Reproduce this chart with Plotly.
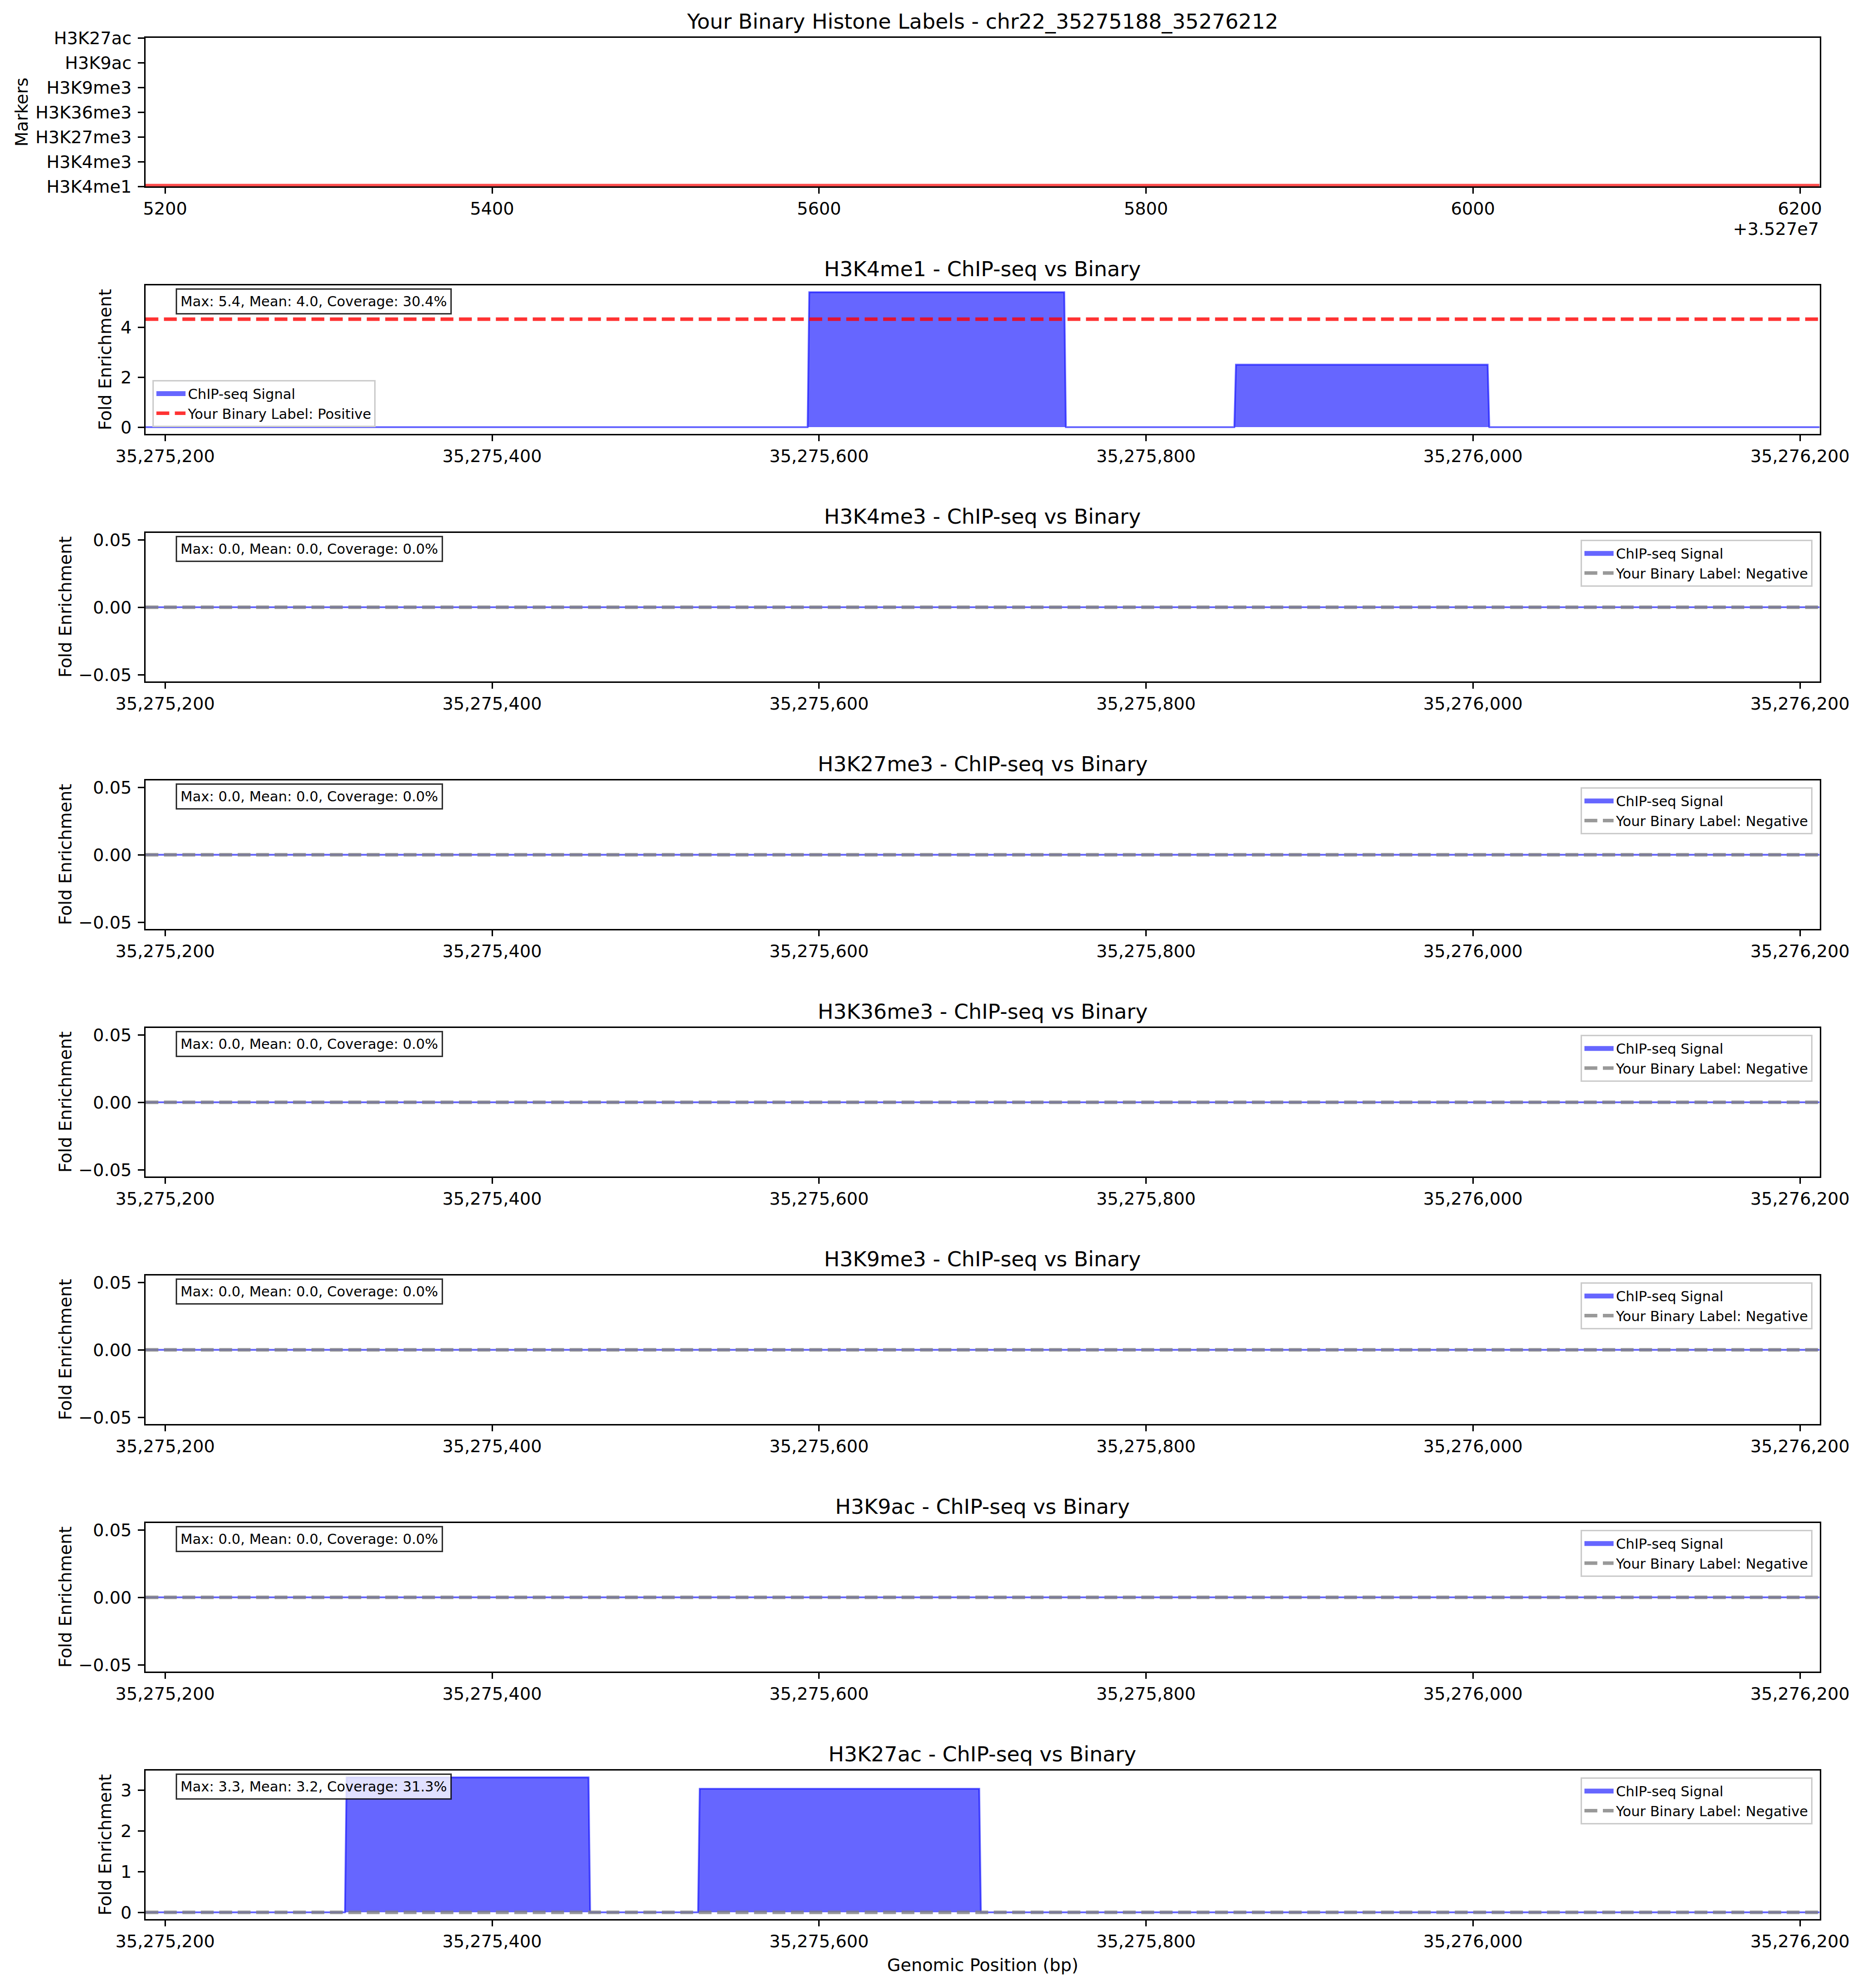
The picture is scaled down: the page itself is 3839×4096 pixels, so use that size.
import plotly.graph_objects as go

# ---------------- data ----------------
region_name = "chr22_35275188_35276212"
region_start = 35275188
region_end = 35276212

markers = ["H3K4me1", "H3K4me3", "H3K27me3", "H3K36me3", "H3K9me3", "H3K9ac", "H3K27ac"]
binary_labels = [1, 0, 0, 0, 0, 0, 0]

# ChIP-seq fold-enrichment step profiles (breakpoints, values)
h3k4me1_pos = [35275188, 35275593, 35275594, 35275750, 35275751, 35275854, 35275855, 35276009, 35276010, 35276212]
h3k4me1_val = [0.0, 0.0, 5.4, 5.4, 0.0, 0.0, 2.5, 2.5, 0.0, 0.0]
h3k4me3_pos = [35275188, 35276212]
h3k4me3_val = [0.0, 0.0]
h3k27me3_pos = [35275188, 35276212]
h3k27me3_val = [0.0, 0.0]
h3k36me3_pos = [35275188, 35276212]
h3k36me3_val = [0.0, 0.0]
h3k9me3_pos = [35275188, 35276212]
h3k9me3_val = [0.0, 0.0]
h3k9ac_pos = [35275188, 35276212]
h3k9ac_val = [0.0, 0.0]
h3k27ac_pos = [35275188, 35275310, 35275311, 35275459, 35275460, 35275526, 35275527, 35275698, 35275699, 35276212]
h3k27ac_val = [0.0, 0.0, 3.32, 3.32, 0.0, 0.0, 3.04, 3.04, 0.0, 0.0]

stats_max = [5.4, 0.0, 0.0, 0.0, 0.0, 0.0, 3.3]
stats_mean = [4.0, 0.0, 0.0, 0.0, 0.0, 0.0, 3.2]
stats_coverage = [30.4, 0.0, 0.0, 0.0, 0.0, 0.0, 31.3]

legend_locs = ["lower left", "upper right", "upper right", "upper right", "upper right", "upper right", "upper right"]

top_tick_values = [35275200, 35275400, 35275600, 35275800, 35276000, 35276200]
top_tick_labels = ["5200", "5400", "5600", "5800", "6000", "6200"]
top_offset_label = "+3.527e7"
pos_tick_values = [35275200, 35275400, 35275600, 35275800, 35276000, 35276200]

signal_positions = [h3k4me1_pos, h3k4me3_pos, h3k27me3_pos, h3k36me3_pos, h3k9me3_pos, h3k9ac_pos, h3k27ac_pos]
signal_values = [h3k4me1_val, h3k4me3_val, h3k27me3_val, h3k36me3_val, h3k9me3_val, h3k9ac_val, h3k27ac_val]

# ---------------- geometry ----------------
W, H = 3839, 4096
PT = 300 / 72 * 0.859          # one matplotlib point in window px
FONT = "DejaVu Sans"
fs_title = 12 * PT
fs_tick = 10 * PT
fs_small = 8 * PT

ax_left, ax_right = 299.8, 3749.5
panel_top0, pitch, panel_h = 78.2, 510.0, 305.8


def px_x(x):
    return x / W


def px_y(y):
    return 1 - y / H


def panel_top(k):
    return panel_top0 + pitch * k


xdom = [px_x(ax_left), px_x(ax_right)]

axis_common = dict(
    showline=True, linecolor="black", linewidth=2.9, mirror=True,
    ticks="outside", ticklen=12.5, tickwidth=2.9, tickcolor="black",
    showgrid=False, zeroline=False, automargin=False,
    tickfont=dict(family=FONT, size=fs_tick, color="black"),
)

fig = go.Figure()
annotations = []
layout_axes = {}

n_panels = 1 + len(markers)
for k in range(n_panels):
    top = panel_top(k)
    bot = top + panel_h
    sfx = "" if k == 0 else str(k + 1)
    layout_axes["xaxis" + sfx] = dict(axis_common, domain=xdom, anchor="y" + sfx,
                                      range=[region_start, region_end], ticklabelstandoff=0)
    layout_axes["yaxis" + sfx] = dict(axis_common, domain=[px_y(bot), px_y(top)], anchor="x" + sfx,
                                      ticklabelstandoff=6)

# ---- top panel: binary labels ----
for i, (m, lab) in enumerate(zip(markers, binary_labels)):
    if lab:
        fig.add_trace(go.Scatter(
            x=[region_start, region_end], y=[i, i], mode="lines",
            line=dict(color="rgba(255,0,0,0.7)", width=10.7),
            showlegend=False, hoverinfo="skip", xaxis="x", yaxis="y"))
layout_axes["xaxis"].update(tickvals=top_tick_values, ticktext=top_tick_labels)
layout_axes["yaxis"].update(range=[0, len(markers) - 1], tickvals=list(range(len(markers))), ticktext=markers)

annotations.append(dict(text=f"Your Binary Histone Labels - {region_name}", xref="paper", yref="paper",
                        x=px_x((ax_left + ax_right) / 2), y=px_y(panel_top(0) - 7),
                        xanchor="center", yanchor="bottom", showarrow=False,
                        font=dict(family=FONT, size=fs_title, color="black")))
annotations.append(dict(text="Markers", xref="paper", yref="paper",
                        x=px_x(44), y=px_y(panel_top(0) + panel_h / 2), textangle=-90,
                        xanchor="center", yanchor="middle", showarrow=False,
                        font=dict(family=FONT, size=fs_tick, color="black")))
annotations.append(dict(text=top_offset_label, xref="paper", yref="paper",
                        x=px_x(ax_right), y=px_y(471), xanchor="right", yanchor="middle", showarrow=False,
                        font=dict(family=FONT, size=fs_tick, color="black")))

# ---- signal panels ----
legends = {}
for i, m in enumerate(markers):
    k = i + 1
    sfx = str(k + 1)
    xa, ya = "x" + sfx, "y" + sfx
    lg = "legend" if i == 0 else "legend" + str(i + 1)
    pos, val = signal_positions[i], signal_values[i]
    lab = binary_labels[i]
    vmax = max(val)

    fig.add_trace(go.Scatter(
        x=pos, y=val, mode="lines", fill="tozeroy",
        fillcolor="rgba(0,0,255,0.6)", line=dict(color="rgba(0,0,255,0.6)", width=3.6),
        name="ChIP-seq Signal", xaxis=xa, yaxis=ya, legend=lg, showlegend=False))
    # legend swatch for the filled signal
    fig.add_trace(go.Scatter(
        x=[None], y=[None], mode="lines",
        line=dict(color="rgba(0,0,255,0.6)", width=18),
        name="ChIP-seq Signal", xaxis=xa, yaxis=ya, legend=lg))
    level = 0.8 * vmax if lab else 0.0
    fig.add_trace(go.Scatter(
        x=[region_start, region_end], y=[level, level], mode="lines",
        line=dict(color="rgba(255,0,0,0.8)" if lab else "rgba(128,128,128,0.8)",
                  width=7.2, dash="26.5px,11.5px"),
        name="Your Binary Label: " + ("Positive" if lab else "Negative"),
        xaxis=xa, yaxis=ya, legend=lg))

    yax = layout_axes["yaxis" + sfx]
    if vmax > 0:
        yax.update(range=[-0.05 * vmax, 1.05 * vmax], dtick=2 if vmax > 4 else 1, tick0=0)
    else:
        yax.update(range=[-0.055, 0.055], tickvals=[-0.05, 0.0, 0.05], tickformat=".2f")
    layout_axes["xaxis" + sfx].update(tickvals=pos_tick_values, tickformat=",d")

    top = panel_top(k)
    bot = top + panel_h
    annotations.append(dict(text=f"{m} - ChIP-seq vs Binary", xref="paper", yref="paper",
                            x=px_x((ax_left + ax_right) / 2), y=px_y(top - 7),
                            xanchor="center", yanchor="bottom", showarrow=False,
                            font=dict(family=FONT, size=fs_title, color="black")))
    annotations.append(dict(text="Fold Enrichment", xref="paper", yref="paper",
                            x=px_x(216.5 if vmax > 0 else 134), y=px_y(top + panel_h / 2), textangle=-90,
                            xanchor="center", yanchor="middle", showarrow=False,
                            font=dict(family=FONT, size=fs_tick, color="black")))
    annotations.append(dict(
        text=f"Max: {stats_max[i]:.1f}, Mean: {stats_mean[i]:.1f}, Coverage: {stats_coverage[i]:.1f}%",
        xref="paper", yref="paper", x=px_x(361.6), y=px_y(top + 6),
        xanchor="left", yanchor="top", showarrow=False, align="left",
        bgcolor="rgba(255,255,255,0.8)", bordercolor="rgba(0,0,0,0.8)", borderwidth=3, borderpad=7,
        font=dict(family=FONT, size=fs_small, color="black")))

    leg = dict(font=dict(family=FONT, size=fs_small, color="black"),
               bgcolor="rgba(255,255,255,0.8)", bordercolor="#cccccc", borderwidth=3,
               xref="paper", yref="paper", traceorder="normal", itemwidth=60)
    if legend_locs[i] == "lower left":
        leg.update(x=px_x(ax_left + 14.5), y=px_y(bot - 14), xanchor="left", yanchor="bottom")
    else:
        leg.update(x=px_x(ax_right - 14.5), y=px_y(top + 14), xanchor="right", yanchor="top")
    legends[lg] = leg

annotations.append(dict(text="Genomic Position (bp)", xref="paper", yref="paper",
                        x=px_x((ax_left + ax_right) / 2), y=px_y(4048),
                        xanchor="center", yanchor="middle", showarrow=False,
                        font=dict(family=FONT, size=fs_tick, color="black")))

fig.update_layout(
    width=W, height=H, margin=dict(l=0, r=0, t=0, b=0, autoexpand=False),
    paper_bgcolor="white", plot_bgcolor="white",
    font=dict(family=FONT, color="black"),
    annotations=annotations, showlegend=True,
    **layout_axes, **legends,
)

fig.write_html("out.html")
